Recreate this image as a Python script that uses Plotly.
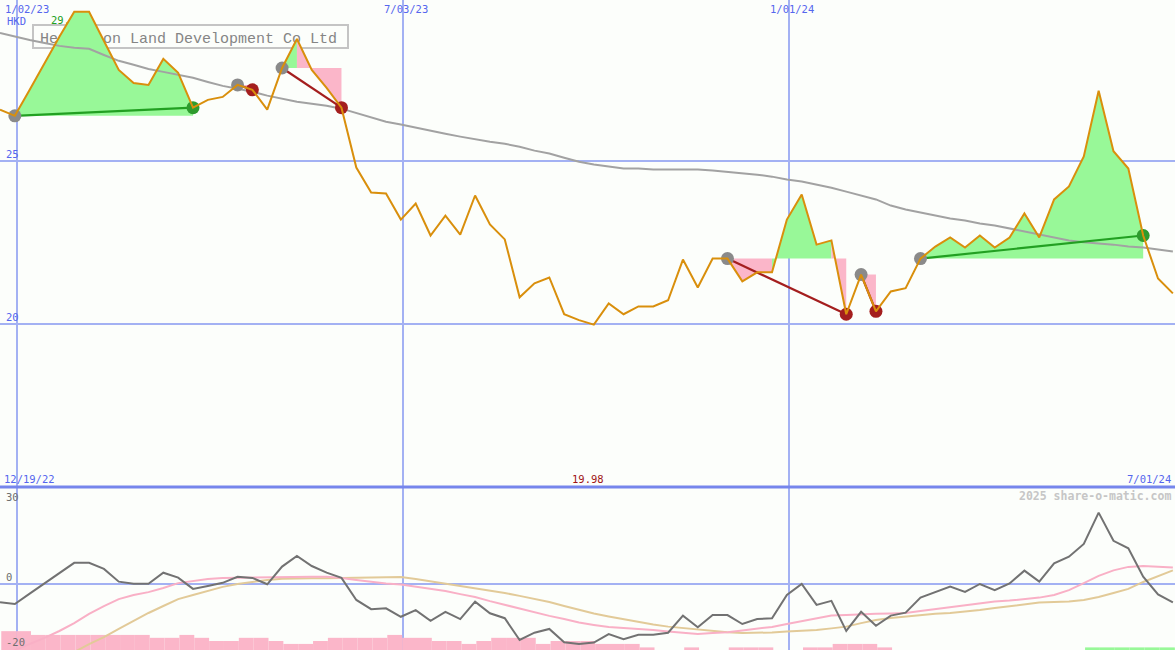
import plotly.graph_objects as go
import pandas as pd

# ---------------- data ----------------
dates = pd.date_range("2022-12-25", periods=80, freq="7D").strftime("%Y-%m-%d").tolist()

price = [26.59, 26.40, 27.20, 28.03, 28.83, 29.60, 29.60, 28.70, 27.81, 27.41,
         27.35, 28.15, 27.72, 26.65, 26.89, 26.98, 27.35, 27.20, 26.59, 27.87,
         28.76, 27.81, 27.26, 26.65, 24.81, 24.04, 24.01, 23.21, 23.70, 22.72,
         23.33, 22.75, 23.95, 23.06, 22.60, 20.82, 21.25, 21.43, 20.30, 20.12,
         19.98, 20.63, 20.30, 20.54, 20.54, 20.73, 21.98, 21.12, 22.01, 22.01,
         21.31, 21.59, 21.59, 23.21, 23.98, 22.44, 22.57, 20.30, 21.52, 20.39,
         21.00, 21.10, 22.01, 22.38, 22.66, 22.35, 22.72, 22.35, 22.66, 23.40,
         22.66, 23.83, 24.23, 25.15, 27.17, 25.31, 24.78, 22.72, 21.40, 20.94]

ma_long = [28.95, 28.83, 28.73, 28.64, 28.55, 28.49, 28.46, 28.27, 28.09, 27.97,
           27.84, 27.75, 27.66, 27.57, 27.44, 27.32, 27.23, 27.14, 27.02, 26.92,
           26.83, 26.77, 26.71, 26.62, 26.49, 26.34, 26.22, 26.13, 26.03, 25.94,
           25.85, 25.76, 25.67, 25.60, 25.54, 25.45, 25.33, 25.24, 25.11, 24.99,
           24.90, 24.84, 24.78, 24.78, 24.75, 24.75, 24.75, 24.75, 24.72, 24.68,
           24.65, 24.59, 24.53, 24.44, 24.38, 24.29, 24.19, 24.07, 23.95, 23.83,
           23.64, 23.52, 23.43, 23.33, 23.24, 23.18, 23.09, 23.03, 22.94, 22.84,
           22.75, 22.66, 22.57, 22.51, 22.48, 22.44, 22.38, 22.35, 22.29, 22.23]

osc = [-6.4, -7.0, -3.4, 0.2, 3.7, 7.2, 7.2, 5.1, 0.7, 0.0,
       0.0, 3.8, 2.1, -1.8, -0.8, 0.3, 2.4, 2.0, -0.2, 5.9,
       9.6, 6.1, 3.8, 2.0, -5.6, -8.8, -8.5, -11.4, -9.1, -12.8,
       -9.7, -12.2, -6.2, -10.2, -11.9, -19.4, -16.9, -15.6, -20.2, -20.8,
       -20.3, -17.4, -19.1, -17.6, -17.6, -16.9, -11.0, -15.0, -10.8, -10.8,
       -13.9, -12.2, -11.9, -3.9, -0.1, -7.3, -5.9, -16.3, -9.7, -14.5,
       -11.0, -10.0, -4.8, -2.8, -1.0, -2.8, -0.1, -2.2, 0.1, 4.5,
       0.7, 7.0, 9.3, 13.7, 24.5, 14.8, 12.2, 2.4, -3.7, -6.4]

osc_fast = [-25.0, -22.9, -20.8, -18.7, -16.3, -13.6, -10.4, -7.7, -5.3, -3.9,
            -2.9, -1.5, 0.2, 0.9, 1.6, 2.0, 2.1, 2.2, 2.3, 2.3,
            2.4, 2.4, 2.4, 2.0, 1.3, 0.6, 0.1, -0.3, -1.0, -1.7,
            -2.5, -3.6, -4.6, -6.0, -7.3, -8.7, -9.8, -11.1, -12.2, -13.4,
            -14.2, -14.9, -15.3, -15.6, -16.0, -16.5, -17.0, -17.3, -17.0, -16.7,
            -16.1, -15.4, -14.9, -13.9, -12.9, -11.8, -11.0, -10.8, -10.5, -10.4,
            -10.3, -10.1, -9.4, -8.7, -8.0, -7.3, -6.7, -6.1, -5.8, -5.3,
            -4.8, -3.9, -2.2, 0.2, 2.7, 4.6, 5.8, 6.1, 5.9, 5.6]

osc_slow = [None, None, None, None, -25.0, -23.6, -20.8, -18.4, -15.6, -12.9,
            -10.1, -7.7, -5.3, -3.9, -2.5, -1.1, -0.1, 0.6, 1.3, 1.7,
            1.9, 1.9, 1.9, 2.0, 2.1, 2.2, 2.3, 2.3, 1.6, 0.8,
            0.1, -0.8, -1.7, -2.3, -3.2, -4.2, -5.3, -6.3, -7.7, -9.1,
            -10.3, -11.3, -12.3, -13.2, -14.1, -14.8, -15.3, -15.8, -16.3, -16.7,
            -17.0, -17.0, -16.8, -16.5, -16.3, -16.0, -15.4, -14.8, -13.6, -12.5,
            -11.8, -11.3, -10.8, -10.4, -10.1, -9.7, -9.1, -8.4, -7.7, -7.0,
            -6.5, -6.3, -6.1, -5.6, -4.6, -3.2, -1.8, 0.6, 2.7, 4.6]

bar_down = [6.5, 6.5, 5.2, 5.2, 5.2, 5.2, 5.2, 5.2, 5.2, 5.2,
            4.2, 4.2, 5.2, 4.2, 3.1, 3.1, 4.2, 4.2, 3.1, 2.1,
            2.1, 3.1, 4.2, 4.2, 4.2, 4.2, 5.2, 4.2, 4.2, 3.1,
            3.1, 2.1, 3.1, 4.2, 4.2, 4.2, 2.1, 3.1, 3.1, 3.1,
            2.1, 2.1, 2.1, 0.9, 0, 0, 0.9, 0, 0, 0.9,
            0.9, 0.9, 0, 0, 0.9, 0.9, 2.1, 2.1, 2.1, 0.9,
            0, 0, 0, 0, 0, 0, 0, 0, 0, 0,
            0, 0, 0, 0, 0, 0, 0, 0, 0, 0]
bar_up = [0] * 73 + [0.9] * 7

swing_start = [1, 16, 19, 49, 58, 62]
swing_end = [13, 17, 23, 57, 59, 77]
fill_from = [1, 16, 19, 20, 49, 52, 56, 58, 62]
fill_to = [13, 17, 20, 23, 52, 56, 57, 59, 77]
fill_base = [1, 16, 19, 19, 49, 49, 49, 58, 62]
fill_up = [True, False, True, False, False, True, False, False, True]

grid_dates = ["2023-01-02", "2023-07-03", "2024-01-01"]
grid_labels = ["1/02/23", "7/03/23", "1/01/24"]
price_ticks = [20, 25]
osc_ticks = [30, 0, -20]
title = "Henderson Land Development Co Ltd"
currency = "HKD"
start_label = "12/19/22"
end_label = "7/01/24"
credit = "2025 share-o-matic.com"

# ---------------- style ----------------
W, H = 1175, 650
BG = "#FCFEFB"
GRID = "#A3B1F3"
BLUE_TXT = "#5566EE"
SEP = "#7686EC"
ORANGE = "#D98F0C"
GRAYMA = "#A2A2A2"
GREEN_FILL = "#98F898"
PINK_FILL = "#FBB6C9"
GREEN_DOT = "#2E9B2E"
RED_DOT = "#A41E1E"
GRAY_DOT = "#8A8A8A"
MONO = "DejaVu Sans Mono"
X_RANGE = ["2022-12-25", "2024-07-01"]
Y1_RANGE = [15.02, 29.96]
Y2_RANGE = [-22.86, 33.0]
SPLIT = 163 / H
DAY_MS = 86400000

fig = go.Figure()

# fills
for a, b, bi, up in zip(fill_from, fill_to, fill_base, fill_up):
    base = price[bi]
    xs = [dates[a]] + dates[a:b + 1] + [dates[b]]
    ys = [base] + price[a:b + 1] + [base]
    fig.add_trace(go.Scatter(x=xs, y=ys, mode="none", fill="toself",
                             fillcolor=GREEN_FILL if up else PINK_FILL,
                             hoverinfo="skip"))

# long moving average
fig.add_trace(go.Scatter(x=dates, y=ma_long, mode="lines",
                         line=dict(color=GRAYMA, width=2), hoverinfo="skip"))

# swing lines
for s, e in zip(swing_start, swing_end):
    col = "#22A022" if price[e] > price[s] else RED_DOT
    fig.add_trace(go.Scatter(x=[dates[s], dates[e]], y=[price[s], price[e]],
                             mode="lines", line=dict(color=col, width=2.2),
                             hoverinfo="skip"))

# swing dots
fig.add_trace(go.Scatter(x=[dates[s] for s in swing_start],
                         y=[price[s] for s in swing_start], mode="markers",
                         marker=dict(size=13, color=GRAY_DOT), hoverinfo="skip"))
fig.add_trace(go.Scatter(x=[dates[e] for e in swing_end],
                         y=[price[e] for e in swing_end], mode="markers",
                         marker=dict(size=13, color=[GREEN_DOT if price[e] > price[s] else RED_DOT
                                                     for s, e in zip(swing_start, swing_end)]),
                         hoverinfo="skip"))

# price
fig.add_trace(go.Scatter(x=dates, y=price, mode="lines",
                         line=dict(color=ORANGE, width=2), hoverinfo="skip"))

# lower panel
fig.add_trace(go.Bar(x=dates, y=bar_down, base=Y2_RANGE[0], width=7 * DAY_MS,
                     offset=0.6 * DAY_MS, marker=dict(color=PINK_FILL, line=dict(width=0)),
                     xaxis="x", yaxis="y2", hoverinfo="skip"))
fig.add_trace(go.Bar(x=dates, y=bar_up, base=Y2_RANGE[0], width=7 * DAY_MS,
                     offset=0.6 * DAY_MS, marker=dict(color=GREEN_FILL, line=dict(width=0)),
                     xaxis="x", yaxis="y2", hoverinfo="skip"))
fig.add_trace(go.Scatter(x=dates, y=osc_slow, mode="lines", line=dict(color="#E2CA98", width=2),
                         xaxis="x", yaxis="y2", hoverinfo="skip"))
fig.add_trace(go.Scatter(x=dates, y=osc_fast, mode="lines", line=dict(color="#F9B0C6", width=2),
                         xaxis="x", yaxis="y2", hoverinfo="skip"))
fig.add_trace(go.Scatter(x=dates, y=osc, mode="lines", line=dict(color="#727272", width=2),
                         xaxis="x", yaxis="y2", hoverinfo="skip"))

# ---------------- annotations ----------------
ann = []
shifts = [10, 3, 3]
for d, lab, sh in zip(grid_dates, grid_labels, shifts):
    ann.append(dict(x=d, xref="x", y=1, yref="paper", yanchor="top", xanchor="center",
                    yshift=-1, xshift=sh, text=lab, showarrow=False,
                    font=dict(family=MONO, size=10.5, color=BLUE_TXT)))
ann.append(dict(x=5 / W, xref="paper", y=1, yref="paper", yanchor="top", xanchor="left",
                yshift=-13, text=currency, showarrow=False,
                font=dict(family=MONO, size=10.5, color=BLUE_TXT)))
for t in price_ticks:
    ann.append(dict(x=4 / W, xref="paper", y=t, yref="y", yanchor="bottom", xanchor="left",
                    yshift=-1, text=str(t), showarrow=False,
                    font=dict(family=MONO, size=10.5, color=BLUE_TXT)))
for t in osc_ticks:
    ann.append(dict(x=4 / W, xref="paper", y=t, yref="y2",
                    yanchor="bottom" if t == 0 else "middle", xanchor="left",
                    yshift=-1 if t == 0 else 0, text=str(t), showarrow=False,
                    font=dict(family=MONO, size=10.5, color="#6E6E6E")))
ylab = 1 - 479 / H
ann.append(dict(x=2 / W, xref="paper", y=ylab, yref="paper", xanchor="left", yanchor="middle",
                text=start_label, showarrow=False, font=dict(family=MONO, size=10.5, color=BLUE_TXT)))
ann.append(dict(x=1 - 2 / W, xref="paper", y=ylab, yref="paper", xanchor="right", yanchor="middle",
                text=end_label, showarrow=False, font=dict(family=MONO, size=10.5, color=BLUE_TXT)))
imin = price.index(min(price))
ann.append(dict(x=dates[imin], xref="x", y=ylab, yref="paper", xanchor="center", yanchor="middle",
                xshift=-6, text=f"{min(price):.2f}", showarrow=False,
                font=dict(family=MONO, size=10.5, color="#A01414")))
ann.append(dict(x=1 - 2 / W, xref="paper", y=1 - 496 / H, yref="paper", xanchor="right",
                yanchor="middle", text=f"<b>{credit}</b>", showarrow=False,
                font=dict(family=MONO, size=11.5, color="#C6C6C6")))

imax = price.index(max(price))
shapes = [
    dict(type="rect", xref="paper", yref="paper", x0=33 / W, x1=348 / W,
         y0=1 - 48 / H, y1=1 - 25 / H, line=dict(color="#C4C4C4", width=2),
         fillcolor="rgba(0,0,0,0)", layer="between",
         label=dict(text=title, textposition="middle left", padding=4,
                    font=dict(family="Liberation Mono", size=15, color="#858585"))),
    # max-price label, drawn beneath the fills
    dict(type="rect", xref="x", yref="paper", x0=dates[imax - 1], x1=dates[imax],
         y0=1 - 26 / H, y1=1 - 12 / H, line=dict(width=0),
         fillcolor="rgba(0,0,0,0)", layer="between",
         label=dict(text=f"{max(price):.2f}", textposition="middle center",
                    font=dict(family=MONO, size=10.5, color="#22A022"))),
    dict(type="line", xref="paper", yref="paper", x0=0, x1=1, y0=SPLIT, y1=SPLIT,
         line=dict(color=SEP, width=3), layer="above"),
]

fig.update_layout(
    width=W, height=H, margin=dict(l=0, r=0, t=0, b=0),
    paper_bgcolor=BG, plot_bgcolor=BG, showlegend=False, barmode="overlay",
    xaxis=dict(range=X_RANGE, type="date", tickvals=grid_dates, showticklabels=False,
               showgrid=True, gridcolor=GRID, gridwidth=2, zeroline=False, showline=False,
               ticks=""),
    yaxis=dict(domain=[SPLIT + 1 / H, 1], range=Y1_RANGE, tickvals=price_ticks,
               showticklabels=False, showgrid=True, gridcolor=GRID, gridwidth=2,
               zeroline=False, ticks=""),
    yaxis2=dict(domain=[0, SPLIT - 1 / H], range=Y2_RANGE, tickvals=[0], anchor="x",
                showticklabels=False, showgrid=True, gridcolor=GRID, gridwidth=2,
                zeroline=False, ticks=""),
    annotations=ann, shapes=shapes,
)

fig.write_html("out.html", config={"displayModeBar": False},
               post_script="document.body.style.margin='0';document.body.style.background='" + BG + "';")
